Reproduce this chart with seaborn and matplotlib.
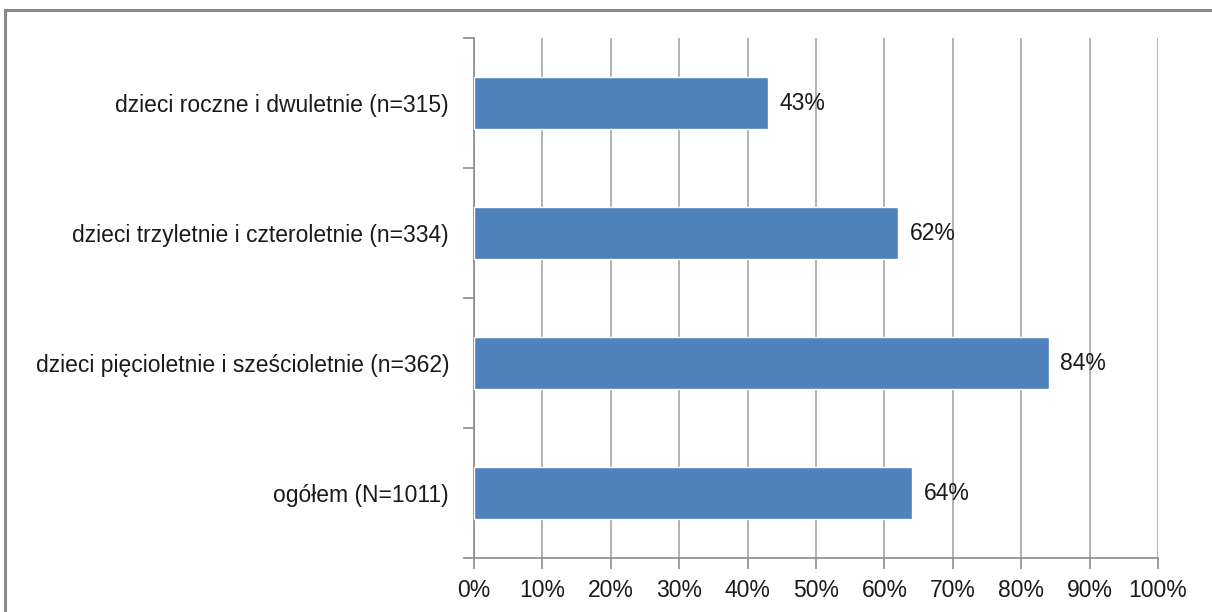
import matplotlib
matplotlib.use("Agg")
import matplotlib.pyplot as plt
import seaborn as sns
import pandas as pd
from matplotlib.ticker import FixedLocator, PercentFormatter
from matplotlib.patches import Rectangle

categories = [
    "dzieci roczne i dwuletnie (n=315)",
    "dzieci trzyletnie i czteroletnie (n=334)",
    "dzieci pięcioletnie i sześcioletnie (n=362)",
    "ogółem (N=1011)",
]
values = [43, 62, 84, 64]
x_ticks = [0, 10, 20, 30, 40, 50, 60, 70, 80, 90, 100]

df = pd.DataFrame({"grupa": categories, "procent": values})

sns.set_style("white", {"xtick.bottom": True, "ytick.left": True})
plt.rcParams["font.family"] = ["Liberation Sans", "DejaVu Sans"]

fig = plt.figure(figsize=(12.12, 6.12), dpi=100)
ax = fig.add_axes([474 / 1212, 1 - 558 / 612, (1158 - 474) / 1212, (558 - 38) / 612])

sns.barplot(data=df, x="procent", y="grupa", orient="h", color="#4F81BD",
            width=0.4, saturation=1, ax=ax, zorder=3)

ax.set_xlim(0, 100)
ax.set_ylim(3.5, -0.5)
ax.set_xticks(x_ticks)
ax.xaxis.set_major_formatter(PercentFormatter(decimals=0))
ax.grid(axis="x", color="#A6A6A6", linewidth=1.2, zorder=0)
ax.set_axisbelow(True)

ax.yaxis.set_minor_locator(FixedLocator([-0.5, 0.5, 1.5, 2.5, 3.5]))
ax.tick_params(axis="y", which="major", left=True, length=0, pad=18, labelsize=16.5, colors="#1a1a1a")
ax.tick_params(axis="y", which="minor", left=True, length=8, width=1.2, color="#8C8C8C")
ax.tick_params(axis="x", bottom=True, length=8, width=1.2, color="#8C8C8C", labelsize=16.5,
               labelcolor="#1a1a1a", pad=7)
ax.set_xlabel("")
ax.set_ylabel("")

for s in ["top", "right"]:
    ax.spines[s].set_visible(False)
for s in ["left", "bottom"]:
    ax.spines[s].set_color("#8C8C8C")
    ax.spines[s].set_linewidth(1.2)

for i, v in enumerate(values):
    ax.text(v + 1.7, i, f"{v}%", va="center", ha="left", fontsize=16.5, color="#1a1a1a", zorder=4)

# frame around the chart area (cut off at right and bottom like the original)
fig.patches.append(Rectangle((5 / 1212, -0.1), 1.2, 1 - 10 / 612 + 0.1,
                             transform=fig.transFigure, fill=False,
                             edgecolor="#8A8A8A", linewidth=2.2))

fig.savefig("out.png", dpi=100)
